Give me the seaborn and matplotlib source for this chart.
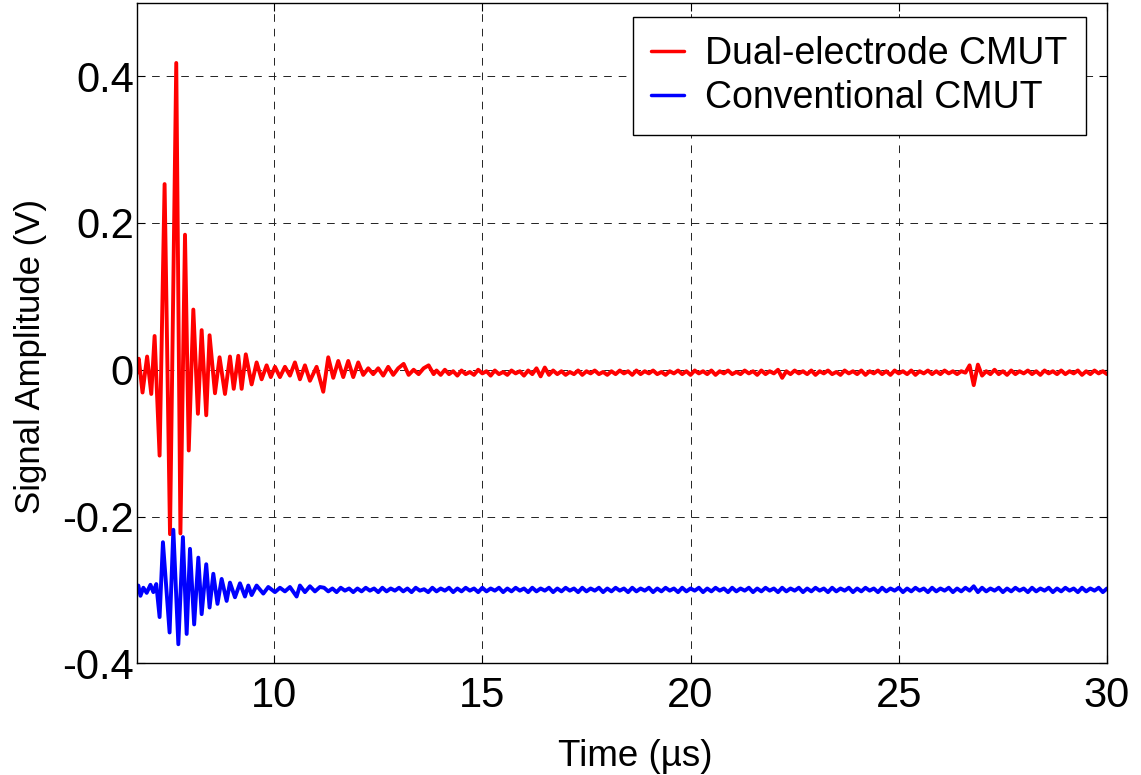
import numpy as np
import pandas as pd
import matplotlib
matplotlib.use("Agg")
import matplotlib.pyplot as plt
import seaborn as sns

# ---------------- data (time in microseconds, amplitude in mV) ----------------
# Dual-electrode CMUT: main echo burst, listed peak by peak
dual_burst_t = [6.70, 6.75, 6.84, 6.95, 7.05, 7.13, 7.25, 7.37, 7.50, 7.65,
                7.75, 7.86, 7.95, 8.06, 8.17, 8.26, 8.37, 8.45, 8.58, 8.69,
                8.82, 8.94, 9.03, 9.14, 9.22, 9.32, 9.46, 9.58, 9.70, 9.82,
                9.92, 10.02, 10.14, 10.26, 10.38, 10.50, 10.62, 10.74, 10.86, 11.02,
                11.18, 11.30, 11.42, 11.54, 11.66, 11.78, 11.90, 12.02, 12.14, 12.26,
                12.38, 12.50, 12.62, 12.74, 12.86, 12.98, 13.11, 13.23, 13.35, 13.47,
                13.59, 13.71, 13.83]
dual_burst_mv = [-5, 15, -31, 18, -33, 46, -117, 253, -224, 418,
                 -223, 184, -110, 82, -60, 54, -62, 47, -32, 17,
                 -33, 18, -26, 19, -26, 21, -20, 10, -13, 6,
                 -10, 4, -10, 4, -8, 10, -13, 6, -15, 4,
                 -30, 17, -11, 12, -10, 12, -10, 10, -7, 2,
                 -6, 2, -8, 4, -7, 2, 8, -7, 0, -6,
                 2, 6, -6]
# Dual-electrode CMUT: quiet record after the burst, 0.1 us sampling from 13.9 us
dual_tail_start = 13.9
dual_tail_mv = [-1, -7, 0, -6, -2, -8, -1, -6, -3, -7, 0, -5,
                -2, -8, -1, -6, -3, -7, -1, -5, -2, -8,
                -1, -6, 2, -9, 3, -7, -1, -6, -2, -7,
                -3, -6, -1, -7, -2, -5, -1, -6, -3, -7,
                -2, -6, -1, -5, -2, -7, -1, -6, -2, -5,
                -1, -6, -3, -7, -2, -5, -1, -6, -2, -7,
                -1, -5, -2, -6, -1, -7, -2, -5, -1, -6,
                -3, -6, -1, -5, -2, -7, -1, -6, -2, -5,
                0, -11, -2, -6, -1, -5, -2, -6, -1, -7,
                -2, -5, -1, -6, -3, -7, -1, -5, -2, -6,
                -1, -7, -2, -5, -1, -6, -2, -7, -1, -5,
                -2, -6, -1, -7, -2, -5, -1, -6, -2, -6,
                -1, -5, -2, -6, -2, -4, 6, -21, 7, -8,
                -2, -6, 0, -6, -2, -7, -1, -6, -2, -5,
                -1, -6, -2, -7, -1, -5, -2, -6, -1, -6,
                -2, -5, -1, -7, -2, -6, -1, -5, -2, -6]

# Conventional CMUT (trace offset to -0.3 V)
conv_burst_t = [6.70, 6.74, 6.79, 6.86, 6.94, 7.03, 7.10, 7.17, 7.25, 7.33,
                7.49, 7.58, 7.70, 7.81, 7.90, 7.98, 8.08, 8.18, 8.26, 8.37,
                8.45, 8.54, 8.64, 8.74, 8.86, 8.94, 9.06, 9.18, 9.30, 9.38,
                9.46, 9.58, 9.74, 9.86, 10.02, 10.14, 10.26, 10.38, 10.54, 10.62,
                10.74, 10.86, 10.98, 11.10]
conv_burst_mv = [-296, -294, -308, -297, -304, -293, -303, -292, -337, -235,
                 -358, -218, -374, -228, -360, -244, -347, -256, -333, -265,
                 -324, -278, -319, -285, -315, -290, -310, -291, -309, -294,
                 -307, -294, -305, -296, -303, -297, -302, -296, -309, -294,
                 -303, -295, -302, -296]
# Conventional CMUT: quiet record, 0.1 us sampling from 11.2 us
conv_tail_start = 11.2
conv_tail_mv = [-297, -302, -298, -303, -297, -301, -298, -303, -298,
                -302, -297, -301, -298, -303, -297, -302, -298, -301, -297,
                -302, -298, -303, -297, -301, -299, -303, -297, -302, -298,
                -301, -297, -303, -298, -302, -297, -301, -298, -303, -297,
                -302, -298, -301, -297, -303, -298, -302, -297, -301, -298,
                -303, -297, -302, -298, -301, -297, -303, -298, -302, -297,
                -301, -298, -303, -297, -302, -298, -301, -297, -303, -298,
                -302, -297, -301, -298, -303, -297, -302, -298, -301, -297,
                -303, -298, -302, -297, -301, -298, -303, -297, -302, -298,
                -301, -297, -303, -298, -302, -297, -301, -298, -303, -297,
                -302, -298, -301, -297, -303, -298, -302, -297, -301, -298,
                -303, -297, -302, -298, -301, -297, -303, -298, -302, -297,
                -301, -298, -303, -297, -302, -298, -301, -297, -303, -298,
                -302, -297, -301, -298, -303, -297, -302, -298, -301, -297,
                -303, -298, -302, -297, -301, -298, -303, -297, -302, -298,
                -301, -297, -303, -298, -302, -297, -301, -295, -303, -297,
                -302, -298, -301, -297, -303, -298, -302, -297, -301, -298,
                -303, -297, -302, -298, -301, -297, -303, -298, -302, -297,
                -301, -298, -303, -297, -302, -298, -301, -297, -303, -298]

series_names = ["Dual-electrode CMUT", "Conventional CMUT"]
series_colors = ["#ff0000", "#0000ff"]

x_ticks = [10, 15, 20, 25, 30]
y_ticks = [-0.4, -0.2, 0.0, 0.2, 0.4]
y_tick_labels = ["-0.4", "-0.2", "0", "0.2", "0.4"]


def assemble(burst_t, burst_mv, tail_start, tail_mv, name):
    tail_t = tail_start + 0.1 * np.arange(len(tail_mv))
    t = np.concatenate([np.asarray(burst_t, float), tail_t])
    v = np.concatenate([np.asarray(burst_mv, float), np.asarray(tail_mv, float)]) / 1000.0
    return pd.DataFrame({"time": t, "amp": v, "device": name})


df = pd.concat([
    assemble(dual_burst_t, dual_burst_mv, dual_tail_start, dual_tail_mv, series_names[0]),
    assemble(conv_burst_t, conv_burst_mv, conv_tail_start, conv_tail_mv, series_names[1]),
], ignore_index=True)

# ---------------- style ----------------
sns.set_theme(style="white")
plt.rcParams["font.family"] = ["Liberation Sans", "DejaVu Sans"]
plt.rcParams["axes.unicode_minus"] = False
plt.rcParams["lines.scale_dashes"] = False
plt.rcParams["text.color"] = "black"
plt.rcParams["axes.labelcolor"] = "black"
plt.rcParams["xtick.color"] = "black"
plt.rcParams["ytick.color"] = "black"

fig = plt.figure(figsize=(11.41, 7.75), dpi=100)
ax = fig.add_axes([0.1198, 0.1441, 0.8504, 0.8523])

sns.lineplot(data=df, x="time", y="amp", hue="device", hue_order=series_names,
             palette=series_colors, estimator=None, sort=False,
             linewidth=2.8, ax=ax)

ax.set_xlim(6.7, 30)
ax.set_ylim(-0.4, 0.5)
ax.set_xticks(x_ticks)
ax.set_xticklabels([str(v) for v in x_ticks])
ax.set_yticks(y_ticks)
ax.set_yticklabels(y_tick_labels)

ax.grid(True, color="#222222", linewidth=0.7, linestyle=(0, (5.5, 5.0)))
ax.set_axisbelow(True)

for side in ["left", "right", "top", "bottom"]:
    ax.spines[side].set_visible(True)
    ax.spines[side].set_color("black")
    ax.spines[side].set_linewidth(1.0)

ax.tick_params(axis="both", which="major", direction="in", length=6, width=0.8,
               color="black", labelcolor="black", top=True, right=True,
               bottom=True, left=True)
ax.tick_params(axis="y", labelsize=30, pad=2)
ax.tick_params(axis="x", labelsize=30, pad=9)

ax.set_xlabel("Time (\u00b5s)", fontsize=26.5, color="black")
ax.xaxis.set_label_coords(0.5135, -0.115)
ax.set_ylabel("Signal Amplitude (V)", fontsize=25, color="black")
ax.yaxis.set_label_coords(-0.092, 0.4645)

leg = ax.legend(loc="upper right", bbox_to_anchor=(0.978, 0.978), borderaxespad=0,
                fontsize=27, handlelength=0.87, handletextpad=0.55,
                labelspacing=0.22, borderpad=0.5, frameon=True, fancybox=False,
                framealpha=1.0, edgecolor="black")
leg.get_frame().set_linewidth(1.0)
for line in leg.get_lines():
    line.set_linewidth(2.5)
for txt in leg.get_texts():
    txt.set_color("black")

fig.savefig("out.png", dpi=100)
